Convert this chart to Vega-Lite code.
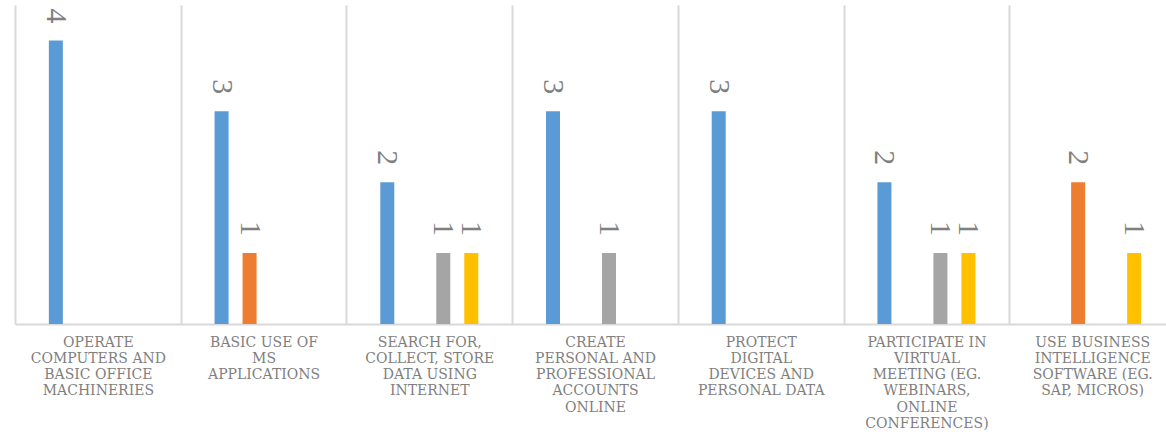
{
  "$schema": "https://vega.github.io/schema/vega-lite/v6.json",
  "width": 1151,
  "height": 319,
  "autosize": {"type": "none"},
  "padding": {"left": 15, "top": 5, "right": 0, "bottom": 115},
  "background": "white",
  "config": {"view": {"stroke": null}},
  "data": {
    "values": [
      {"category": "OPERATE|COMPUTERS AND|BASIC OFFICE|MACHINERIES", "series": "S1", "value": 4},
      {"category": "BASIC USE OF|MS|APPLICATIONS", "series": "S1", "value": 3},
      {"category": "BASIC USE OF|MS|APPLICATIONS", "series": "S2", "value": 1},
      {"category": "SEARCH FOR,|COLLECT, STORE|DATA USING|INTERNET", "series": "S1", "value": 2},
      {"category": "SEARCH FOR,|COLLECT, STORE|DATA USING|INTERNET", "series": "S3", "value": 1},
      {"category": "SEARCH FOR,|COLLECT, STORE|DATA USING|INTERNET", "series": "S4", "value": 1},
      {"category": "CREATE|PERSONAL AND|PROFESSIONAL|ACCOUNTS|ONLINE", "series": "S1", "value": 3},
      {"category": "CREATE|PERSONAL AND|PROFESSIONAL|ACCOUNTS|ONLINE", "series": "S3", "value": 1},
      {"category": "PROTECT|DIGITAL|DEVICES AND|PERSONAL DATA", "series": "S1", "value": 3},
      {"category": "PARTICIPATE IN|VIRTUAL|MEETING (EG.|WEBINARS,|ONLINE|CONFERENCES)", "series": "S1", "value": 2},
      {"category": "PARTICIPATE IN|VIRTUAL|MEETING (EG.|WEBINARS,|ONLINE|CONFERENCES)", "series": "S3", "value": 1},
      {"category": "PARTICIPATE IN|VIRTUAL|MEETING (EG.|WEBINARS,|ONLINE|CONFERENCES)", "series": "S4", "value": 1},
      {"category": "USE BUSINESS|INTELLIGENCE|SOFTWARE (EG.|SAP, MICROS)", "series": "S2", "value": 2},
      {"category": "USE BUSINESS|INTELLIGENCE|SOFTWARE (EG.|SAP, MICROS)", "series": "S4", "value": 1}
    ]
  },
  "encoding": {
    "x": {
      "field": "category",
      "type": "nominal",
      "sort": null,
      "scale": {"range": [0, 1160], "paddingInner": 0, "paddingOuter": 0},
      "axis": {
        "title": null,
        "labelExpr": "split(datum.label, '|')",
        "labelAngle": 0,
        "labelFont": "DejaVu Serif",
        "labelFontSize": 14,
        "labelColor": "#7f7f7f",
        "labelLineHeight": 16.3,
        "labelBaseline": "top",
        "labelPadding": 11,
        "labelLimit": 300,
        "ticks": false,
        "domainColor": "#d9d9d9",
        "domainWidth": 2,
        "grid": true,
        "gridColor": "#d9d9d9",
        "gridWidth": 2,
        "tickBand": "extent"
      }
    },
    "xOffset": {
      "field": "series",
      "type": "nominal",
      "scale": {"domain": ["P0", "S1", "S2", "S3", "S4", "P5"], "paddingInner": 0.5, "paddingOuter": 0.209}
    },
    "y": {
      "field": "value",
      "type": "quantitative",
      "scale": {"domain": [0, 4.5], "nice": false},
      "axis": null
    }
  },
  "layer": [
    {
      "mark": {"type": "bar"},
      "encoding": {
        "color": {
          "field": "series",
          "type": "nominal",
          "scale": {"domain": ["S1", "S2", "S3", "S4"], "range": ["#5B9BD5", "#ED7D31", "#A5A5A5", "#FFC000"]},
          "legend": null
        }
      }
    },
    {
      "mark": {
        "type": "text",
        "angle": 90,
        "align": "right",
        "baseline": "middle",
        "dx": -17,
        "font": "Liberation Serif",
        "fontSize": 30,
        "color": "#808080"
      },
      "encoding": {
        "text": {"field": "value", "type": "quantitative"}
      }
    }
  ]
}
